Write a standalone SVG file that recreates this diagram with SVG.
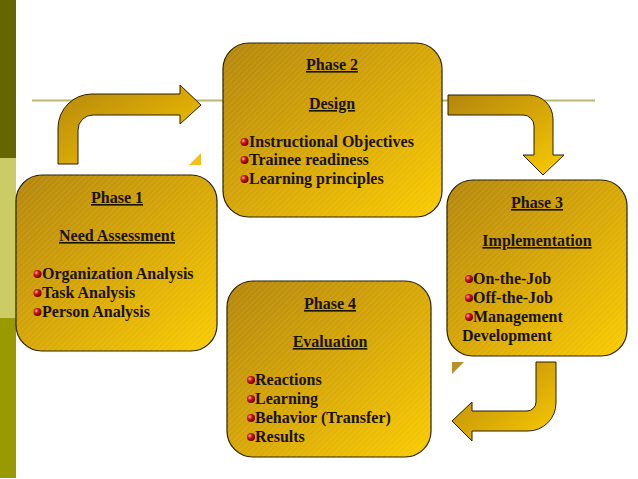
<svg xmlns="http://www.w3.org/2000/svg" width="638" height="479" viewBox="0 0 638 479">
<defs>
<linearGradient id="gold" x1="0" y1="0" x2="1" y2="1">
<stop offset="0" stop-color="#B4860C"/>
<stop offset="0.55" stop-color="#DAAA06"/>
<stop offset="1" stop-color="#FACC00"/>
</linearGradient>
<pattern id="hatch" width="4" height="4" patternUnits="userSpaceOnUse" patternTransform="rotate(-45)">
<rect width="4" height="1" fill="#ffffff" opacity="0.10"/>
</pattern>
<radialGradient id="ball" cx="0.35" cy="0.35" r="0.7">
<stop offset="0" stop-color="#ffb0a0"/>
<stop offset="0.4" stop-color="#d01818"/>
<stop offset="1" stop-color="#600000"/>
</radialGradient>
</defs>
<style>
.box{fill:url(#gold);stroke:#2a1e00;stroke-width:1.2}
.hat{fill:url(#hatch);stroke:none}
.arr{fill:url(#gold);stroke:#2a1e00;stroke-width:1}
.t{font-family:"Liberation Serif","Times New Roman",serif;font-weight:bold;font-size:16px;fill:#1a1200}
.h{text-decoration:underline;text-anchor:middle}
.b{fill:url(#ball)}
.tri{fill:#F2C21A}
</style>
<g id="background">
<rect x="0" y="0" width="16" height="158" fill="#666600"/>
<rect x="0" y="158" width="16" height="160" fill="#CCCC66"/>
<rect x="0" y="318" width="16" height="160" fill="#999900"/>
<line x1="32" y1="100.5" x2="595" y2="100.5" stroke="#B8B870" stroke-width="2"/>
<polygon class="tri" points="201,153 201,165 189,165"/>
<polygon points="452,362 464,362 452,374" fill="#B89028"/>
</g>
<g id="connectors">
<path class="arr" d="M58,164 L58,128 A34,34 0 0 1 92,94 L180,94 L180,85 L201,105 L180,124 L180,115 L93,115 A15,15 0 0 0 78,130 L78,164 Z"/>
<path class="arr" d="M448,95 L529,95 A24,24 0 0 1 553,119 L553,155 L564,155 L543,175 L523,155 L534,155 L534,126 A11,11 0 0 0 523,115 L448,115 Z"/>
<path class="arr" d="M536,362 L556,362 L556,403 A28,28 0 0 1 528,431 L472,431 L472,441 L452,421 L472,402 L472,411 L527,411 A9,9 0 0 0 536,402 Z"/>
</g>
<g id="phase1">
<rect class="box" x="16" y="175" width="201" height="176" rx="26"/>
<rect class="hat" x="16" y="175" width="201" height="176" rx="26"/>
<text class="t h" x="117" y="203">Phase 1</text>
<text class="t h" x="117" y="241">Need Assessment</text>
<circle class="b" cx="37.5" cy="274" r="4"/>
<text class="t" x="42" y="279">Organization Analysis</text>
<circle class="b" cx="37.5" cy="293" r="4"/>
<text class="t" x="42" y="298">Task Analysis</text>
<circle class="b" cx="37.5" cy="312" r="4"/>
<text class="t" x="42" y="317">Person Analysis</text>
</g>
<g id="phase2">
<rect class="box" x="223" y="43" width="219" height="174" rx="26"/>
<rect class="hat" x="223" y="43" width="219" height="174" rx="26"/>
<text class="t h" x="332" y="70">Phase 2</text>
<text class="t h" x="332" y="109">Design</text>
<circle class="b" cx="244.5" cy="142" r="4"/>
<text class="t" x="249" y="147">Instructional Objectives</text>
<circle class="b" cx="244.5" cy="160" r="4"/>
<text class="t" x="249" y="165">Trainee readiness</text>
<circle class="b" cx="244.5" cy="179" r="4"/>
<text class="t" x="249" y="184">Learning principles</text>
</g>
<g id="phase3">
<rect class="box" x="447" y="180" width="180" height="176" rx="26"/>
<rect class="hat" x="447" y="180" width="180" height="176" rx="26"/>
<text class="t h" x="537" y="208">Phase 3</text>
<text class="t h" x="537" y="246">Implementation</text>
<circle class="b" cx="469" cy="279" r="4"/>
<text class="t" x="473" y="284">On-the-Job</text>
<circle class="b" cx="469" cy="298" r="4"/>
<text class="t" x="473" y="303">Off-the-Job</text>
<circle class="b" cx="469" cy="317" r="4"/>
<text class="t" x="473" y="322">Management</text>
<text class="t" x="462" y="341">Development</text>
</g>
<g id="phase4">
<rect class="box" x="227" y="281" width="204" height="176" rx="26"/>
<rect class="hat" x="227" y="281" width="204" height="176" rx="26"/>
<text class="t h" x="330" y="309">Phase 4</text>
<text class="t h" x="330" y="347">Evaluation</text>
<circle class="b" cx="251" cy="380" r="4"/>
<text class="t" x="255" y="385">Reactions</text>
<circle class="b" cx="251" cy="399" r="4"/>
<text class="t" x="255" y="404">Learning</text>
<circle class="b" cx="251" cy="418" r="4"/>
<text class="t" x="255" y="423">Behavior (Transfer)</text>
<circle class="b" cx="251" cy="437" r="4"/>
<text class="t" x="255" y="442">Results</text>
</g>
</svg>
